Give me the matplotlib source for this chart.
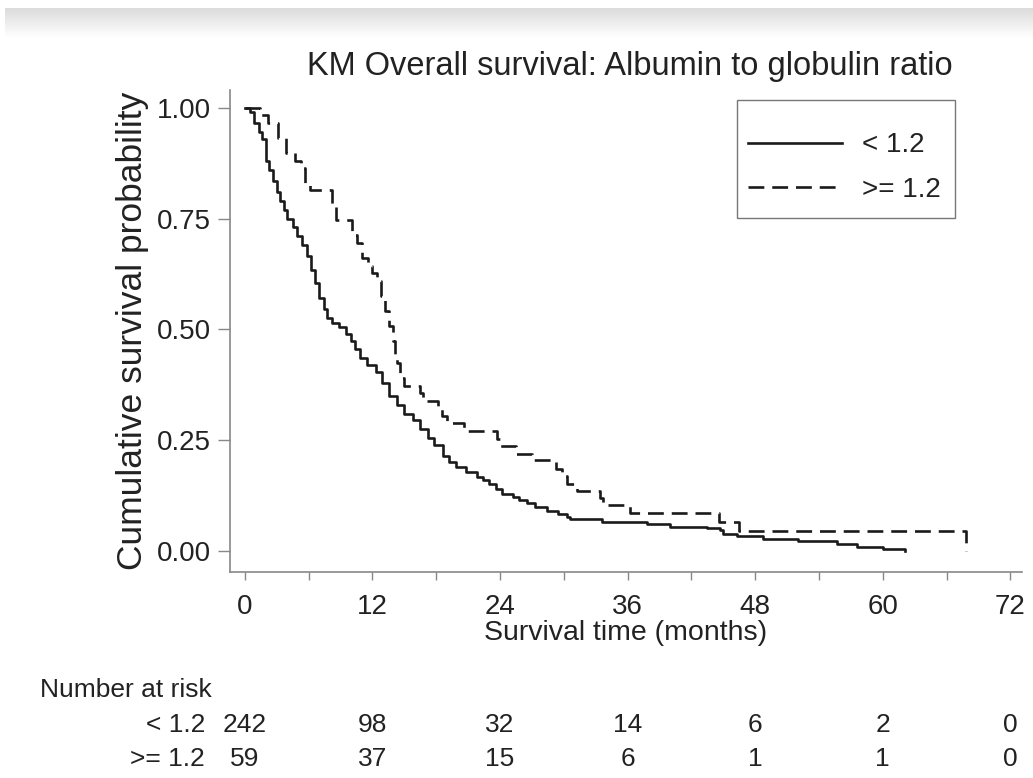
import numpy as np
import matplotlib
matplotlib.use("Agg")
import matplotlib.pyplot as plt
from matplotlib.patches import Rectangle
from matplotlib.ticker import MultipleLocator

plt.rcParams['font.family'] = ['Liberation Sans', 'DejaVu Sans']

# KM step data: (time in months, survival after the step)
low_t = [0, 0.5, 0.9, 1.3, 1.6, 2.0, 2.3, 2.6, 3.0, 3.3, 3.7, 4.0, 4.5, 4.9, 5.4,
         5.8, 6.2, 6.6, 7.0, 7.4, 7.7, 8.2, 8.9, 9.5, 10.0, 10.4, 10.8, 11.5, 12.3,
         12.9, 13.6, 14.3, 15.0, 15.8, 16.5, 17.2, 17.8, 18.6, 19.2, 19.9, 20.8,
         21.8, 22.4, 23.0, 23.6, 24.2, 25.2, 25.8, 26.5, 27.3, 28.4, 29.5, 30.3,
         30.6, 33.6, 37.8, 40.0, 43.5, 44.7, 45.0, 46.3, 48.7, 52.0, 55.7, 57.6,
         60.0, 62.1]
low_s = [1.0, 0.99, 0.965, 0.945, 0.93, 0.88, 0.86, 0.835, 0.81, 0.79, 0.77, 0.75,
         0.73, 0.71, 0.69, 0.665, 0.635, 0.605, 0.57, 0.545, 0.525, 0.515, 0.505,
         0.49, 0.475, 0.455, 0.435, 0.42, 0.405, 0.38, 0.35, 0.33, 0.31, 0.295,
         0.275, 0.255, 0.24, 0.215, 0.2, 0.19, 0.178, 0.167, 0.16, 0.152, 0.14,
         0.13, 0.122, 0.115, 0.108, 0.1, 0.09, 0.083, 0.076, 0.072, 0.065, 0.061,
         0.055, 0.052, 0.047, 0.038, 0.034, 0.027, 0.022, 0.016, 0.01, 0.005, 0.0]

high_t = [0, 1.4, 2.2, 3.1, 3.9, 4.7, 5.3, 5.7, 6.1, 8.2, 8.6, 10.1, 10.5, 11.0,
          11.6, 12.0, 12.4, 12.8, 13.2, 13.6, 13.9, 14.1, 14.3, 14.6, 15.0, 16.5,
          16.8, 18.2, 18.5, 19.0, 20.6, 23.7, 24.0, 25.5, 27.0, 29.3, 29.8, 30.3,
          31.2, 33.4, 33.7, 36.2, 44.6, 46.5, 67.8]
high_s = [1.0, 0.983, 0.966, 0.932, 0.898, 0.881, 0.864, 0.83, 0.814, 0.78, 0.746,
          0.712, 0.695, 0.661, 0.644, 0.627, 0.61, 0.576, 0.542, 0.508, 0.475,
          0.441, 0.424, 0.39, 0.373, 0.356, 0.339, 0.322, 0.305, 0.288, 0.271,
          0.254, 0.237, 0.22, 0.205, 0.186, 0.169, 0.152, 0.136, 0.12, 0.104,
          0.086, 0.065, 0.045, 0.0]

groups = ['< 1.2', '>= 1.2']
risk_times = [0, 12, 24, 36, 48, 60, 72]
risk_low = [242, 98, 32, 14, 6, 2, 0]
risk_high = [59, 37, 15, 6, 1, 1, 0]

fig = plt.figure(figsize=(10.33, 7.78), dpi=100)

# grey screenshot band at the very top
band = fig.add_axes([0.005, 1 - 38 / 778, 0.995, 30 / 778])
grad = np.linspace(0.86, 1.0, 64).reshape(-1, 1)
band.imshow(grad, aspect='auto', cmap='gray', vmin=0, vmax=1)
band.axis('off')

ax = fig.add_axes([230 / 1033, 1 - 572 / 778, 792 / 1033, 482 / 778])

ax.step(low_t, low_s, where='post', color='#1a1a1a', lw=1.9, label=groups[0])
ax.step(high_t, high_s, where='post', color='#1a1a1a', lw=1.9,
        dashes=(6, 3), label=groups[1])

ax.set_xlim(-1.4, 73.1)
ax.set_ylim(-0.047, 1.04)
ax.xaxis.set_major_locator(MultipleLocator(12))
ax.xaxis.set_minor_locator(MultipleLocator(6))
ax.set_yticks([0, 0.25, 0.5, 0.75, 1.0])
ax.set_yticklabels(['0.00', '0.25', '0.50', '0.75', '1.00'])

for side in ['top', 'right']:
    ax.spines[side].set_visible(False)
for side in ['left', 'bottom']:
    ax.spines[side].set_color('#888888')
    ax.spines[side].set_linewidth(1.2)
ax.tick_params(which='both', width=1, color='#888888',
               labelsize=20, labelcolor='#222222')
ax.tick_params(axis='x', which='both', length=6, pad=10)
ax.tick_params(axis='y', length=9, pad=5)

ax.set_xlabel('Survival time (months)', fontsize=20.5, color='#222222', labelpad=0)
ax.set_ylabel('Cumulative survival probability', fontsize=25.5, color='#222222',
              labelpad=5)

# legend entries without frame, box drawn separately (wider top/bottom padding)
leg = ax.legend(loc='center left', bbox_to_anchor=(0.654, 0.839), fontsize=20,
                frameon=False, handlelength=3.4, handletextpad=0.7,
                borderpad=0, labelspacing=0.66, borderaxespad=0)
for t in leg.get_texts():
    t.set_color('#222222')
ax.add_patch(Rectangle((0.640, 0.734), 0.275, 0.245, transform=ax.transAxes,
                       fill=False, edgecolor='#777777', lw=1.0, clip_on=False))

fig.text(0.61, 0.914, 'KM Overall survival: Albumin to globulin ratio',
         fontsize=23.5, ha='center', va='center', color='#222222')

# number at risk table, placed in data x coordinates
fig.text(40 / 1033, 1 - 690 / 778, 'Number at risk', fontsize=19,
         ha='left', va='center', color='#222222')
trans = matplotlib.transforms.blended_transform_factory(ax.transData, fig.transFigure)
rows_y = [1 - 725 / 778, 1 - 759 / 778]
for g, counts, yy in zip(groups, [risk_low, risk_high], rows_y):
    fig.text(205 / 1033, yy, g, fontsize=19, ha='right', va='center', color='#222222')
    for tt, n in zip(risk_times, counts):
        ax.text(tt, yy, str(n), transform=trans, fontsize=19, ha='center',
                va='center', color='#222222', clip_on=False)

fig.savefig('out.png', dpi=100)
